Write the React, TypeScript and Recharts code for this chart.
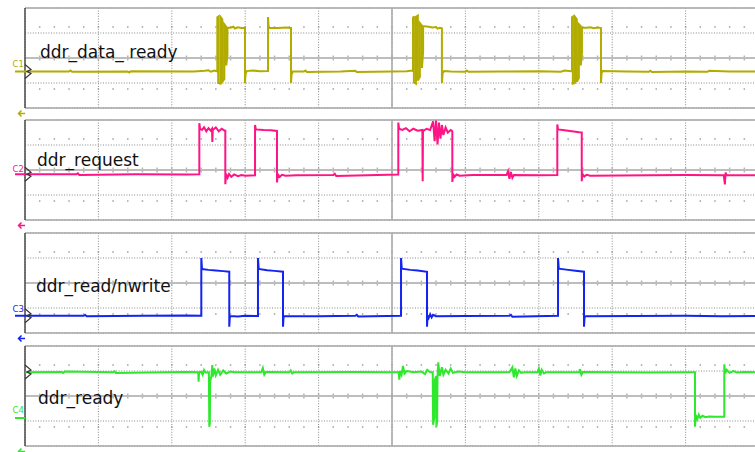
import { CartesianGrid, Line, LineChart, ReferenceLine, XAxis, YAxis } from "recharts";

type Sample = [number, number];

// time in screen divisions, amplitude in divisions from the panel centre
const divisionTicks = [0, 1, 2, 3, 4, 5, 6, 7, 8, 9, 10];
const levelTicks = [-4, -3, -2, -1, 0, 1, 2, 3, 4];

const channelNames = ["ddr_data_ ready", "ddr_request", "ddr_read/nwrite", "ddr_ready"];
const channelTags = ["C1", "C2", "C3", "C4"];
const groundLevels = [-1.08, -0.34, -2.62, -1.76];
const markerLevels = [-1.08, -0.34, -2.62, 1.92];

const ddrDataReady: Sample[] = [
  [0, -1.08], [0.6, -1.08], [0.62, -1.0], [0.64, -1.1], [1.4, -1.08], [1.42, -1.16], [1.44, -1.06],
  [2.3, -1.08], [2.45, -1.02], [2.5, -0.98], [2.53, -1.1], [2.58, -1.0], [2.61, -1.06],
  [2.62, -1.06], [2.62, 3.25], [2.632, 3.3], [2.632, -2.0], [2.662, -2.05], [2.662, 3.3], [2.688, 3.1],
  [2.688, -1.9], [2.716, -1.7], [2.716, 2.7], [2.742, 2.5], [2.742, -0.6], [2.758, 0.2], [2.758, 2.42],
  [2.8, 2.42], [2.84, 2.5], [2.86, 2.36], [2.9, 2.45], [2.95, 2.4], [2.997, 2.42],
  [2.997, -2.0], [3.005, -1.3], [3.02, -1.05], [3.1, -1.0], [3.2, -1.05], [3.311, -1.04],
  [3.311, 3.28], [3.318, 2.55], [3.33, 2.42], [3.45, 2.4], [3.55, 2.44], [3.624, 2.4],
  [3.624, -2.0], [3.632, -1.3], [3.65, -1.08], [3.8, -1.08], [3.82, -1.0], [3.84, -1.12], [4.3, -1.08],
  [4.5, -1.03], [4.52, -1.12], [5.0, -1.08], [5.2, -1.06], [5.27, -1.0],
  [5.286, -1.05], [5.286, 3.2], [5.298, 3.35], [5.298, -1.95], [5.326, -2.05], [5.326, 3.3], [5.352, 3.4],
  [5.352, -1.8], [5.38, -1.5], [5.38, 2.8], [5.408, 2.6], [5.408, -0.8], [5.424, 0.5], [5.424, 2.55],
  [5.5, 2.5], [5.55, 2.45], [5.6, 2.48], [5.62, 2.35], [5.65, 2.42], [5.68, 2.38],
  [5.68, -2.0], [5.69, -1.2], [5.71, -1.05], [5.8, -1.08], [6.0, -1.1], [6.02, -1.0], [6.04, -1.1],
  [6.5, -1.08], [7.0, -1.06], [7.3, -1.1], [7.35, -1.0], [7.44, -1.05],
  [7.452, -1.05], [7.452, 3.25], [7.464, 3.3], [7.464, -2.05], [7.492, -2.0], [7.492, 3.3], [7.518, 3.1],
  [7.518, -1.9], [7.546, -1.6], [7.546, 2.7], [7.572, 2.55], [7.572, -0.6], [7.588, 0.4], [7.588, 2.42],
  [7.65, 2.42], [7.7, 2.46], [7.75, 2.38], [7.8, 2.44], [7.847, 2.4],
  [7.847, -2.0], [7.855, -1.2], [7.87, -1.05], [8.2, -1.08], [8.5, -1.1], [8.52, -1.02], [8.54, -1.12],
  [9.0, -1.08], [9.3, -1.1], [9.32, -1.02], [9.6, -1.08], [10, -1.08],
];

const ddrRequest: Sample[] = [
  [0, -0.34], [0.7, -0.34], [0.72, -0.26], [0.74, -0.4], [1.5, -0.34], [2.2, -0.36], [2.375, -0.34],
  [2.375, 3.75], [2.385, 3.3], [2.41, 3.2], [2.44, 3.42], [2.47, 3.1], [2.5, 3.35], [2.53, 3.15],
  [2.548, 3.3], [2.552, 2.24], [2.558, 3.2], [2.6, 3.4], [2.64, 3.1], [2.68, 3.3], [2.72, 3.15], [2.729, 3.15],
  [2.729, -1.14], [2.74, -0.3], [2.76, -0.62], [2.78, -0.32], [2.81, -0.55], [2.85, -0.35], [2.9, -0.5],
  [2.95, -0.4], [3.0, -0.46], [3.134, -0.42],
  [3.134, 3.6], [3.145, 3.25], [3.25, 3.2], [3.35, 3.18], [3.433, 3.12],
  [3.433, -1.0], [3.445, -0.35], [3.47, -0.55], [3.5, -0.38], [3.55, -0.45], [3.7, -0.42], [4.2, -0.4],
  [4.22, -0.3], [4.24, -0.48], [4.8, -0.4], [5.086, -0.36],
  [5.086, 3.8], [5.096, 3.3], [5.14, 3.2], [5.19, 3.35], [5.24, 3.1], [5.29, 3.3], [5.35, 3.15],
  [5.414, 3.2], [5.418, -0.9], [5.422, 3.1], [5.47, 3.3], [5.52, 3.2], [5.56, 3.9], [5.58, 2.3],
  [5.6, 3.95], [5.62, 2.05], [5.64, 3.8], [5.66, 2.5], [5.68, 3.6], [5.7, 2.8], [5.73, 3.4], [5.76, 3.0],
  [5.8, 3.2], [5.822, 3.1],
  [5.822, -0.96], [5.832, -0.3], [5.85, -0.55], [5.88, -0.36], [5.92, -0.46], [6.1, -0.4], [6.56, -0.4],
  [6.58, -0.1], [6.6, -0.7], [6.62, -0.15], [6.64, -0.62], [6.66, -0.4], [7.0, -0.42], [7.252, -0.4],
  [7.252, 3.65], [7.262, 3.25], [7.35, 3.18], [7.45, 3.1], [7.55, 3.02], [7.585, 3.0],
  [7.585, -0.9], [7.595, -0.32], [7.62, -0.52], [7.65, -0.38], [7.7, -0.45], [8.5, -0.42], [9.0, -0.4],
  [9.52, -0.42], [9.535, -1.15], [9.545, -0.2], [9.56, -0.42], [10, -0.42],
];

const ddrReadNwrite: Sample[] = [
  [0, -2.62], [0.8, -2.62], [0.82, -2.55], [0.84, -2.66], [1.6, -2.62], [2.2, -2.6], [2.402, -2.62],
  [2.402, 2.0], [2.412, 1.12], [2.5, 1.05], [2.6, 1.0], [2.7, 0.95], [2.783, 0.9],
  [2.783, -3.5], [2.79, -2.75], [2.8, -2.65], [2.9, -2.68], [3.0, -2.62], [3.174, -2.64],
  [3.174, 2.0], [3.184, 1.12], [3.3, 1.02], [3.4, 0.97], [3.515, 0.9],
  [3.515, -3.5], [3.522, -2.75], [3.535, -2.65], [4.0, -2.66], [4.5, -2.62], [4.52, -2.55], [4.54, -2.68],
  [5.123, -2.62],
  [5.123, 2.0], [5.133, 1.15], [5.25, 1.05], [5.35, 1.0], [5.477, 0.9],
  [5.477, -3.5], [5.485, -2.6], [5.5, -2.8], [5.52, -2.5], [5.54, -2.75], [5.56, -2.55], [5.6, -2.66],
  [6.0, -2.64], [6.6, -2.62], [6.62, -2.55], [6.64, -2.7], [7.262, -2.62],
  [7.262, 2.0], [7.272, 1.15], [7.4, 1.05], [7.5, 0.98], [7.616, 0.9],
  [7.616, -3.5], [7.623, -2.75], [7.64, -2.65], [8.3, -2.64], [9.0, -2.62], [9.5, -2.66], [10, -2.64],
];

const ddrReady: Sample[] = [
  [0, 1.9], [0.5, 1.92], [0.52, 1.84], [0.54, 1.95], [1.2, 1.9], [1.22, 1.98], [1.24, 1.85], [1.9, 1.9],
  [2.2, 1.92], [2.36, 1.9], [2.365, 1.14], [2.372, 1.9], [2.4, 1.94], [2.42, 1.7], [2.44, 2.08],
  [2.46, 1.88], [2.505, 1.9], [2.511, -2.46], [2.518, -2.2], [2.522, 0.9], [2.527, 1.3], [2.54, 1.6],
  [2.552, 2.48], [2.56, 1.55], [2.58, 2.2], [2.6, 1.65], [2.63, 2.1], [2.66, 1.7], [2.7, 2.05],
  [2.74, 1.8], [2.8, 1.95], [2.85, 1.9], [3.22, 1.9], [3.24, 2.24], [3.26, 1.7], [3.28, 1.92],
  [3.6, 1.9], [3.62, 2.05], [3.64, 1.8], [3.66, 1.9], [4.5, 1.92], [5.0, 1.9],
  [5.09, 1.9], [5.1, 1.3], [5.11, 2.0], [5.13, 1.7], [5.15, 2.4], [5.17, 1.8], [5.2, 2.0], [5.3, 1.9],
  [5.4, 1.95], [5.45, 1.75], [5.48, 2.1], [5.52, 1.9], [5.555, 1.9], [5.56, -2.3], [5.575, -1.8],
  [5.58, 1.2], [5.6, 1.6], [5.605, -2.45], [5.615, -2.0], [5.62, 1.5], [5.63, 2.7], [5.65, 1.6],
  [5.68, 2.3], [5.7, 1.7], [5.73, 2.1], [5.77, 1.8], [5.8, 2.2], [5.83, 1.85], [5.9, 1.95], [6.0, 1.9],
  [6.6, 1.9], [6.64, 2.3], [6.66, 1.5], [6.68, 2.2], [6.7, 1.6], [6.73, 2.05], [6.76, 1.85], [6.8, 1.9],
  [6.98, 1.9], [7.0, 2.2], [7.02, 1.65], [7.04, 2.1], [7.07, 1.8], [7.1, 1.9],
  [7.55, 1.9], [7.56, 2.15], [7.58, 1.7], [7.6, 1.92], [8.0, 1.9], [8.5, 1.88], [9.0, 1.9], [9.128, 1.9],
  [9.128, -2.46], [9.14, -1.5], [9.16, -1.85], [9.18, -1.5], [9.2, -1.75], [9.23, -1.58], [9.27, -1.7],
  [9.32, -1.64], [9.4, -1.66], [9.527, -1.66],
  [9.527, 2.54], [9.54, 1.8], [9.56, 2.1], [9.6, 1.85], [9.65, 2.0], [9.7, 1.88], [9.8, 1.92], [10, 1.9],
];

const traces = [ddrDataReady, ddrRequest, ddrReadNwrite, ddrReady];

// layout
const WIDTH = 755;
const HEIGHT = 452;
const PLOT_LEFT = 25;
const DIV_W = 73.4;
const DIV_H = 12.5;
const PANEL_H = 100;
const panelTops = [8, 120, 233, 346];
const colors = ["#b3ac00", "#ff1485", "#1424f0", "#2de82d"];
const labelPos = [
  [40, 58],
  [37, 165.5],
  [36, 291.5],
  [38, 404],
];
const tagBaselines = [66.5, 171.5, 311.5, 413];
const FONT = "'DejaVu Sans', Verdana, sans-serif";

function Panel({ index }: { index: number }) {
  const data = traces[index].map(([t, v]) => ({ t, v }));
  return (
    <div style={{ position: "absolute", left: 0, top: panelTops[index] - 8 }}>
      <LineChart
        width={PLOT_LEFT + DIV_W * 10 + 1}
        height={PANEL_H + 12}
        data={data}
        margin={{ top: 8, right: 1, bottom: 4, left: PLOT_LEFT }}
      >
        <CartesianGrid stroke="#8a8a8a" strokeDasharray="1 1.6" />
        <XAxis type="number" dataKey="t" domain={[0, 10]} ticks={divisionTicks} hide />
        <YAxis type="number" domain={[-4, 4]} ticks={levelTicks} hide />
        <ReferenceLine y={0} stroke="#bdbdbd" strokeWidth={2} />
        <ReferenceLine x={5} stroke="#a8a8a8" strokeWidth={1.5} />
        <ReferenceLine y={4} stroke="#a8a8a8" strokeWidth={1.5} />
        <ReferenceLine y={-4} stroke="#a8a8a8" strokeWidth={1.5} />
        <ReferenceLine x={0} stroke="#4a4a4a" strokeWidth={1.5} />
        <Line
          type="linear"
          dataKey="v"
          stroke={colors[index]}
          strokeWidth={2}
          dot={false}
          isAnimationActive={false}
        />
      </LineChart>
    </div>
  );
}

function MinorMarks() {
  const items: JSX.Element[] = [];
  panelTops.forEach((top, p) => {
    const cy = top + PANEL_H / 2;
    for (let k = 1; k < 50; k++) {
      const x = PLOT_LEFT + (k * DIV_W) / 5;
      items.push(
        <line key={`t${p}-${k}`} x1={x} x2={x} y1={cy - 2.5} y2={cy + 2.5} stroke="#b4b4b4" strokeWidth={1.5} />
      );
      items.push(<rect key={`a${p}-${k}`} x={x - 0.75} y={cy - 31.75} width={1.5} height={1.5} fill="#a0a0a0" />);
      items.push(<rect key={`b${p}-${k}`} x={x - 0.75} y={cy + 30.25} width={1.5} height={1.5} fill="#a0a0a0" />);
    }
  });
  return (
    <svg width={WIDTH} height={HEIGHT} style={{ position: "absolute", left: 0, top: 0 }}>
      {items}
    </svg>
  );
}

function Annotations() {
  return (
    <svg width={WIDTH} height={HEIGHT} style={{ position: "absolute", left: 0, top: 0, pointerEvents: "none" }}>
      {panelTops.map((top, i) => {
        const cy = top + PANEL_H / 2;
        const gy = cy - groundLevels[i] * DIV_H;
        const my = cy - markerLevels[i] * DIV_H;
        const ay = top + PANEL_H + 5.5;
        return (
          <g key={i}>
            <text x={labelPos[i][0]} y={labelPos[i][1]} fontFamily={FONT} fontSize={17} fill="#111">
              {channelNames[i]}
            </text>
            <text x={12.5} y={tagBaselines[i]} fontFamily={FONT} fontSize={8.5} fill={colors[i]}>
              {channelTags[i]}
            </text>
            <line x1={15} x2={PLOT_LEFT} y1={gy} y2={gy} stroke={colors[i]} strokeWidth={2} />
            <path
              d={`M25,${my - 7} L31,${my - 2} L27,${my} L31,${my + 2} L25,${my + 7}`}
              fill="none"
              stroke="#333"
              strokeWidth={1.2}
            />
            <path
              d={`M25,${ay} L18.5,${ay} M21.5,${ay - 3} L18.5,${ay} L21.5,${ay + 3}`}
              fill="none"
              stroke={colors[i]}
              strokeWidth={1.5}
            />
          </g>
        );
      })}
    </svg>
  );
}

export default function App() {
  return (
    <div
      style={{
        position: "absolute",
        left: 0,
        top: 0,
        width: WIDTH,
        height: HEIGHT,
        overflow: "hidden",
        background: "#fff",
      }}
    >
      <MinorMarks />
      {panelTops.map((_, i) => (
        <Panel key={i} index={i} />
      ))}
      <Annotations />
    </div>
  );
}
